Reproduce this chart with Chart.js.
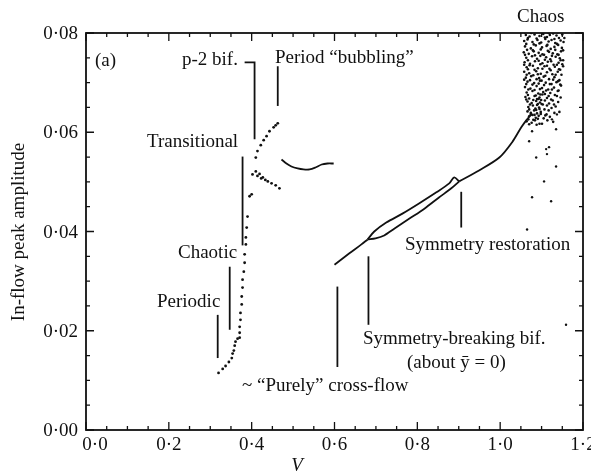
<!DOCTYPE html>
<html lang="en">
<head>
  <meta charset="UTF-8">
  <script src="https://cdn.jsdelivr.net/npm/chart.js"></script>
  <title>In-flow peak amplitude vs V</title>
  <style>
    body { margin: 0; background: #fff; }
    .wrap { width: 591px; height: 475px; }
  </style>
</head>
<body>
  <div class="wrap"><canvas id="grafico"></canvas></div>
  <script>
    // ---- data (V, amplitude) ----
    const lowBranchV = [0.320, 0.330, 0.337, 0.345, 0.352, 0.354, 0.357, 0.359, 0.361, 0.366, 0.371, 0.371, 0.371, 0.373, 0.373, 0.376, 0.376, 0.378, 0.378, 0.381, 0.383, 0.383, 0.386, 0.386, 0.388, 0.390, 0.395, 0.400];
    const lowBranchAmp = [0.0115, 0.0123, 0.0129, 0.0137, 0.0145, 0.0154, 0.0160, 0.0170, 0.0178, 0.0184, 0.0186, 0.0196, 0.0208, 0.0222, 0.0236, 0.0253, 0.0269, 0.0287, 0.0303, 0.0319, 0.0337, 0.0354, 0.0374, 0.0388, 0.0408, 0.0430, 0.0471, 0.0475];

    const p2LowerV = [0.402, 0.410, 0.414, 0.419, 0.423, 0.427, 0.433, 0.439, 0.448, 0.458, 0.467];
    const p2LowerAmp = [0.0515, 0.0521, 0.0512, 0.0516, 0.0507, 0.0509, 0.0504, 0.0501, 0.0497, 0.0493, 0.0487];

    const p2UpperV = [0.410, 0.414, 0.422, 0.429, 0.436, 0.443, 0.453, 0.458, 0.463];
    const p2UpperAmp = [0.0549, 0.0562, 0.0574, 0.0584, 0.0592, 0.0602, 0.0610, 0.0614, 0.0618];

    const bubblingV = [0.472, 0.484, 0.496, 0.511, 0.525, 0.540, 0.554, 0.569, 0.583, 0.598];
    const bubblingAmp = [0.0545, 0.0537, 0.0531, 0.0527, 0.0525, 0.0525, 0.0529, 0.0535, 0.0537, 0.0537];

    const crossFlowV = [0.600, 0.636, 0.665, 0.680];
    const crossFlowAmp = [0.0333, 0.0356, 0.0374, 0.0384];

    const symUpperV = [0.680, 0.696, 0.725, 0.764, 0.805, 0.846, 0.877, 0.889, 0.901];
    const symUpperAmp = [0.0384, 0.0400, 0.0418, 0.0436, 0.0457, 0.0479, 0.0497, 0.0509, 0.0501];

    const symLowerV = [0.680, 0.699, 0.720, 0.745, 0.781, 0.817, 0.853, 0.882, 0.901];
    const symLowerAmp = [0.0384, 0.0386, 0.0392, 0.0406, 0.0426, 0.0446, 0.0469, 0.0487, 0.0501];

    const mergedV = [0.901, 0.949, 0.998, 1.029, 1.051, 1.063, 1.075];
    const mergedAmp = [0.0501, 0.0523, 0.0549, 0.0580, 0.0610, 0.0624, 0.0636];

    // chaotic cloud near the top right, [V, amplitude]
    const chaosPts = [
      [1.060, 0.0801], [1.075, 0.0800], [1.100, 0.0802], [1.117, 0.0800], [1.139, 0.0801],
      [1.062, 0.0796], [1.071, 0.0793], [1.083, 0.0797], [1.095, 0.0794], [1.104, 0.0798], [1.113, 0.0792], [1.120, 0.0796], [1.128, 0.0799], [1.136, 0.0795], [1.142, 0.0790], [1.150, 0.0797],
      [1.067, 0.0790], [1.088, 0.0789], [1.108, 0.0791], [1.131, 0.0788], [1.155, 0.0790],
      [1.058, 0.0784], [1.066, 0.0787], [1.078, 0.0782], [1.090, 0.0786], [1.099, 0.0781], [1.109, 0.0788], [1.117, 0.0783], [1.124, 0.0786], [1.133, 0.0780], [1.146, 0.0785], [1.153, 0.0782],
      [1.063, 0.0778], [1.081, 0.0777], [1.095, 0.0779], [1.114, 0.0776], [1.137, 0.0778],
      [1.060, 0.0773], [1.074, 0.0769], [1.086, 0.0775], [1.101, 0.0771], [1.112, 0.0774], [1.122, 0.0768], [1.131, 0.0772], [1.140, 0.0776], [1.149, 0.0770],
      [1.065, 0.0766], [1.079, 0.0765], [1.098, 0.0767], [1.115, 0.0764], [1.133, 0.0766], [1.152, 0.0765],
      [1.057, 0.0761], [1.069, 0.0758], [1.081, 0.0763], [1.093, 0.0760], [1.106, 0.0756], [1.118, 0.0762], [1.127, 0.0759], [1.138, 0.0757], [1.147, 0.0763],
      [1.060, 0.0756], [1.084, 0.0755], [1.102, 0.0757], [1.125, 0.0754], [1.141, 0.0756],
      [1.063, 0.0750], [1.077, 0.0753], [1.089, 0.0748], [1.097, 0.0754], [1.111, 0.0751], [1.121, 0.0747], [1.134, 0.0752], [1.144, 0.0749], [1.152, 0.0745],
      [1.067, 0.0745], [1.093, 0.0744], [1.108, 0.0746], [1.123, 0.0743], [1.146, 0.0745],
      [1.059, 0.0741], [1.072, 0.0738], [1.084, 0.0743], [1.102, 0.0739], [1.115, 0.0742], [1.129, 0.0736], [1.141, 0.0740], [1.150, 0.0737],
      [1.058, 0.0736], [1.071, 0.0735], [1.097, 0.0737], [1.113, 0.0734], [1.137, 0.0736], [1.152, 0.0733],
      [1.064, 0.0731], [1.079, 0.0734], [1.091, 0.0729], [1.107, 0.0733], [1.119, 0.0728], [1.132, 0.0732], [1.145, 0.0726],
      [1.067, 0.0727], [1.083, 0.0726], [1.102, 0.0728], [1.122, 0.0725], [1.142, 0.0727],
      [1.058, 0.0722], [1.070, 0.0719], [1.087, 0.0723], [1.098, 0.0718], [1.113, 0.0721], [1.126, 0.0717], [1.139, 0.0722], [1.148, 0.0716],
      [1.064, 0.0716], [1.080, 0.0715], [1.091, 0.0717], [1.109, 0.0714], [1.134, 0.0716],
      [1.062, 0.0710], [1.075, 0.0713], [1.094, 0.0709], [1.105, 0.0712], [1.118, 0.0707], [1.131, 0.0711], [1.143, 0.0705],
      [1.058, 0.0706], [1.072, 0.0705], [1.088, 0.0707], [1.100, 0.0704], [1.128, 0.0706], [1.140, 0.0703],
      [1.066, 0.0702], [1.082, 0.0699], [1.096, 0.0704], [1.110, 0.0700], [1.124, 0.0697], [1.136, 0.0701], [1.147, 0.0694],
      [1.063, 0.0697], [1.078, 0.0696], [1.093, 0.0698], [1.106, 0.0695], [1.120, 0.0697], [1.145, 0.0696],
      [1.060, 0.0691], [1.073, 0.0688], [1.088, 0.0693], [1.101, 0.0689], [1.116, 0.0686], [1.130, 0.0690], [1.141, 0.0684],
      [1.068, 0.0686], [1.083, 0.0685], [1.096, 0.0687], [1.111, 0.0684], [1.125, 0.0686], [1.139, 0.0683],
      [1.064, 0.0680], [1.078, 0.0683], [1.092, 0.0678], [1.097, 0.0676], [1.104, 0.0681], [1.108, 0.0677], [1.121, 0.0679], [1.137, 0.0673], [1.146, 0.0670],
      [1.067, 0.0675], [1.086, 0.0674], [1.102, 0.0676], [1.117, 0.0673], [1.132, 0.0675],
      [1.061, 0.0671], [1.070, 0.0668], [1.083, 0.0673], [1.089, 0.0667], [1.095, 0.0670], [1.099, 0.0665], [1.113, 0.0669], [1.127, 0.0664], [1.140, 0.0661],
      [1.063, 0.0666], [1.080, 0.0665], [1.093, 0.0667], [1.108, 0.0664], [1.123, 0.0666],
      [1.066, 0.0662], [1.076, 0.0659], [1.087, 0.0663], [1.091, 0.0657], [1.096, 0.0660], [1.103, 0.0656], [1.118, 0.0658], [1.134, 0.0652],
      [1.072, 0.0656], [1.089, 0.0655], [1.100, 0.0657], [1.113, 0.0654], [1.130, 0.0656],
      [1.068, 0.0651], [1.079, 0.0654], [1.085, 0.0648], [1.094, 0.0650], [1.107, 0.0646], [1.124, 0.0649], [1.143, 0.0641],
      [1.070, 0.0646], [1.087, 0.0645], [1.095, 0.0647], [1.117, 0.0644],
      [1.066, 0.0642], [1.074, 0.0639], [1.082, 0.0644], [1.089, 0.0638], [1.098, 0.0641], [1.112, 0.0636], [1.131, 0.0639],
      [1.074, 0.0636], [1.083, 0.0635], [1.098, 0.0637], [1.109, 0.0634],
      [1.070, 0.0632], [1.078, 0.0635], [1.086, 0.0629], [1.093, 0.0633], [1.105, 0.0628], [1.120, 0.0631],
      [1.068, 0.0626], [1.080, 0.0625], [1.091, 0.0627], [1.114, 0.0624],
      [1.064, 0.0622], [1.076, 0.0619], [1.084, 0.0624], [1.101, 0.0617], [1.128, 0.0621],
      [1.070, 0.0616], [1.088, 0.0615], [1.095, 0.0617]
    ];

    // stray points below the cloud
    const strayV = [1.070, 1.087, 1.111, 1.118, 1.113, 1.135, 1.106, 1.077, 1.123, 1.065, 1.135, 1.137, 1.077, 1.125, 1.159];
    const strayAmp = [0.0582, 0.0549, 0.0566, 0.0570, 0.0556, 0.0531, 0.0501, 0.0469, 0.0461, 0.0404, 0.0606, 0.0636, 0.0602, 0.0626, 0.0212];

    const xTicks = [0, 0.2, 0.4, 0.6, 0.8, 1.0, 1.2];
    const yTicks = [0, 0.02, 0.04, 0.06, 0.08];

    // pointer lines of the notes, in data units
    const pointers = [
      [[0.383, 0.0741], [0.407, 0.0741], [0.407, 0.0586]],
      [[0.463, 0.0733], [0.463, 0.0653]],
      [[0.378, 0.0551], [0.378, 0.0372]],
      [[0.347, 0.0329], [0.347, 0.0202]],
      [[0.318, 0.0232], [0.318, 0.0145]],
      [[0.607, 0.0289], [0.607, 0.0127]],
      [[0.682, 0.0350], [0.682, 0.0212]],
      [[0.906, 0.0480], [0.906, 0.0408]]
    ];

    // note texts: text, left x, baseline y (px)
    const notes = [
      ['Chaos', 517, 22],
      ['(a)', 95, 66],
      ['p-2 bif.', 182, 65],
      ['Period \u201cbubbling\u201d', 275, 63],
      ['Transitional', 147, 147],
      ['Chaotic', 178, 258],
      ['Periodic', 157, 307],
      ['~ \u201cPurely\u201d cross-flow', 242, 391],
      ['Symmetry restoration', 405, 250],
      ['Symmetry-breaking bif.', 363, 344],
      ['(about \u0233 = 0)', 407, 368]
    ];

    function pares(xs, ys) {
      return xs.map((x, i) => ({ x: x, y: ys[i] }));
    }

    function fmt(v, casas) {
      return v.toFixed(casas).replace('.', '\u00b7');
    }

    const serif = '"Liberation Serif", "DejaVu Serif", serif';
    const preto = '#111';

    const linha = (pts) => ({
      data: pts, showLine: true, pointRadius: 0, borderColor: preto,
      borderWidth: 1.8, tension: 0.3, fill: false
    });
    const pontos = (pts, r) => ({
      data: pts, showLine: false, pointRadius: r, pointBorderWidth: 0,
      backgroundColor: preto, borderColor: preto
    });

    const molduraPlugin = {
      id: 'moldura',
      afterDatasetsDraw(chart) {
        const ctx = chart.ctx;
        const a = chart.chartArea;
        const sx = chart.scales.x, sy = chart.scales.y;
        ctx.save();
        ctx.strokeStyle = preto;
        ctx.fillStyle = preto;

        // pointer lines
        ctx.lineWidth = 1.8;
        pointers.forEach(p => {
          ctx.beginPath();
          p.forEach((q, i) => {
            const px = sx.getPixelForValue(q[0]), py = sy.getPixelForValue(q[1]);
            if (i === 0) ctx.moveTo(px, py); else ctx.lineTo(px, py);
          });
          ctx.stroke();
        });

        // frame
        ctx.lineWidth = 1.8;
        ctx.strokeRect(a.left, a.top, a.right - a.left, a.bottom - a.top);

        // ticks, inward on all sides
        ctx.lineWidth = 1.3;
        ctx.beginPath();
        for (let i = 0; i <= 24; i++) {
          const v = i * 0.05;
          const px = sx.getPixelForValue(v);
          const len = (i % 4 === 0) ? 8 : 4;
          ctx.moveTo(px, a.bottom); ctx.lineTo(px, a.bottom - len);
          ctx.moveTo(px, a.top); ctx.lineTo(px, a.top + len);
        }
        for (let i = 0; i <= 16; i++) {
          const v = i * 0.005;
          const py = sy.getPixelForValue(v);
          const len = (i % 4 === 0) ? 8 : 4;
          ctx.moveTo(a.left, py); ctx.lineTo(a.left + len, py);
          ctx.moveTo(a.right, py); ctx.lineTo(a.right - len, py);
        }
        ctx.stroke();

        // tick labels
        ctx.font = '19px ' + serif;
        ctx.textBaseline = 'alphabetic';
        ctx.textAlign = 'center';
        xTicks.forEach((v, i) => {
          const px = sx.getPixelForValue(v) + (i === 0 ? 9 : 0);
          ctx.fillText(fmt(v, 1), px, a.bottom + 20);
        });
        ctx.textAlign = 'right';
        yTicks.forEach(v => {
          ctx.fillText(fmt(v, 2), a.left - 8, sy.getPixelForValue(v) + 6);
        });

        // axis titles
        ctx.textAlign = 'center';
        ctx.font = 'italic 19px ' + serif;
        ctx.fillText('V', 297, 471);
        ctx.font = '19px ' + serif;
        ctx.save();
        ctx.translate(24, 232);
        ctx.rotate(-Math.PI / 2);
        ctx.fillText('In-flow peak amplitude', 0, 0);
        ctx.restore();

        // notes
        ctx.textAlign = 'left';
        notes.forEach(n => ctx.fillText(n[0], n[1], n[2]));
        ctx.restore();
      }
    };

    new Chart(document.getElementById('grafico'), {
      type: 'scatter',
      data: {
        datasets: [
          pontos(pares(lowBranchV, lowBranchAmp), 1.4),
          pontos(pares(p2LowerV, p2LowerAmp), 1.4),
          pontos(pares(p2UpperV, p2UpperAmp), 1.4),
          linha(pares(bubblingV, bubblingAmp)),
          linha(pares(crossFlowV, crossFlowAmp)),
          linha(pares(symUpperV, symUpperAmp)),
          linha(pares(symLowerV, symLowerAmp)),
          linha(pares(mergedV, mergedAmp)),
          pontos(chaosPts.map(p => ({ x: p[0], y: p[1] })), 1.3),
          pontos(pares(strayV, strayAmp), 1.2)
        ]
      },
      options: {
        responsive: true,
        maintainAspectRatio: false,
        animation: false,
        layout: { padding: { left: 86, right: 8, top: 33, bottom: 45 } },
        plugins: { legend: { display: false }, tooltip: { enabled: false } },
        scales: {
          x: { type: 'linear', display: false, min: 0, max: 1.2 },
          y: { type: 'linear', display: false, min: 0, max: 0.08 }
        }
      },
      plugins: [molduraPlugin]
    });
  </script>
</body>
</html>
